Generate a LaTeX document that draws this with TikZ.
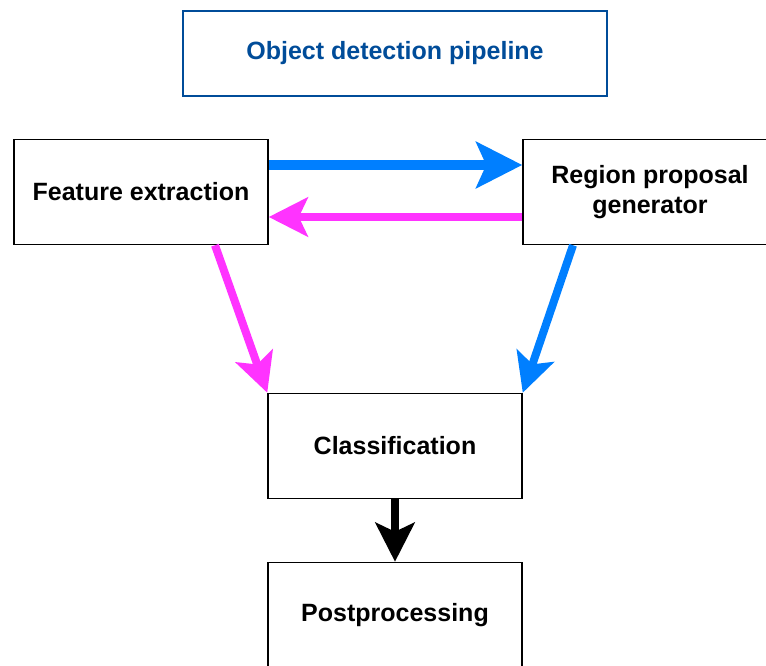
\documentclass[tikz,border=0pt]{standalone}
\usepackage{fontspec}
\setmainfont{Liberation Sans}
\usetikzlibrary{arrows.meta}
\definecolor{PipeBlue}{HTML}{007FFF}
\definecolor{PipePink}{HTML}{FF33FF}
\definecolor{TitleBlue}{HTML}{004C99}

\begin{document}
\begin{tikzpicture}[x=1pt, y=-1pt, font=\fontsize{25}{30}\selectfont\bfseries,
    stage/.style={draw, line width=1.5pt, minimum width=254pt, minimum height=105pt, align=center, inner sep=0pt},
    flow/.style={line width=8pt, -{Stealth[length=39pt, width=39pt, inset=9pt]}},
    bigflow/.style={line width=10pt, -{Stealth[length=46pt, width=46pt, inset=10pt]}}]
\useasboundingbox (0,0) rectangle (766,666);

\node[draw=TitleBlue, line width=1.2pt, text=TitleBlue, minimum width=424pt, minimum height=85pt] (title) at (395,53.5) {Object detection pipeline};

\node[stage] (feat) at (141,192) {Feature extraction};
\node[stage] (region) at (650,192) {Region proposal\\generator};
\node[stage] (class) at (395,446) {Classification};
\node[stage] (post) at (395,615) {Postprocessing};

\draw[bigflow, PipeBlue] ([yshift=27pt]feat.east) -- ([yshift=27pt]region.west);
\draw[flow, PipePink] ([yshift=-25pt]region.west) -- ([yshift=-25pt]feat.east);
\draw[flow, PipePink] ([xshift=74pt]feat.south) -- (class.north west);
\draw[flow, PipeBlue] ([xshift=-77pt]region.south) -- (class.north east);
\draw[flow, black] (class.south) -- (post.north);
\end{tikzpicture}
\end{document}
